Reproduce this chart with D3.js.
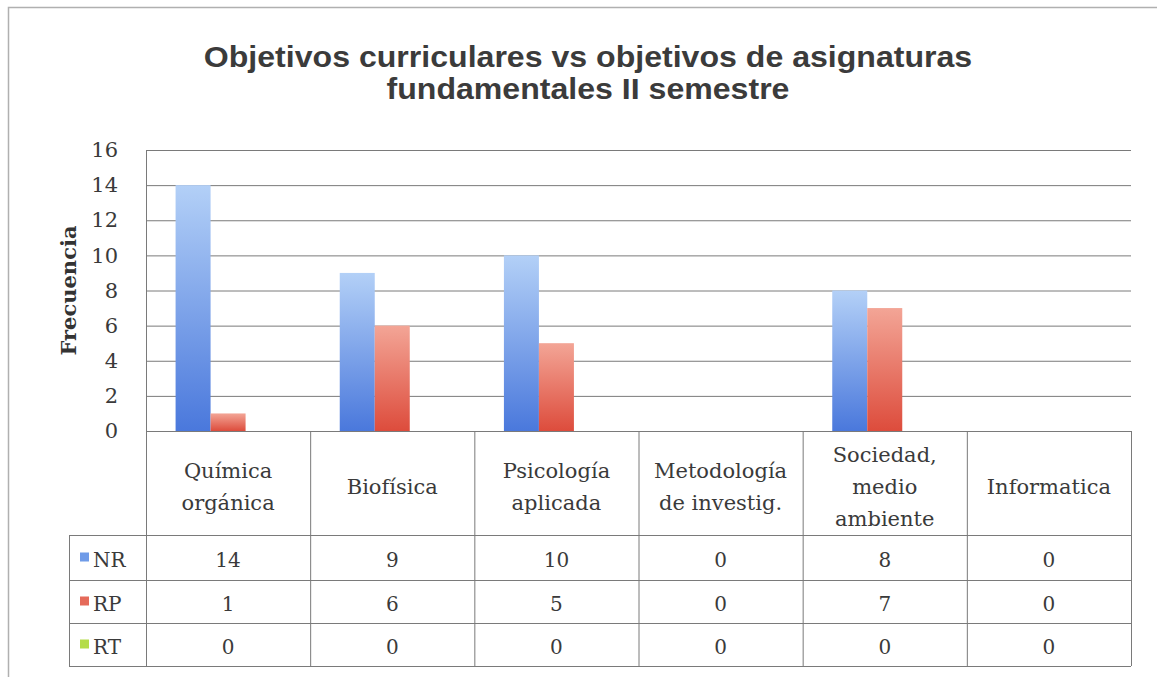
<!DOCTYPE html>
<html>
<head>
<meta charset="utf-8">
<script src="https://cdn.jsdelivr.net/npm/d3@7"></script>
<style>
  body { margin: 0; background: #fff; }
  svg { display: block; }
</style>
</head>
<body>
<script>
var categories = [
    ["Química", "orgánica"],
    ["Biofísica"],
    ["Psicología", "aplicada"],
    ["Metodología", "de investig."],
    ["Sociedad,", "medio", "ambiente"],
    ["Informatica"]
];
var seriesNames = ["NR", "RP", "RT"];
var nrValues = [14, 9, 10, 0, 8, 0];
var rpValues = [1, 6, 5, 0, 7, 0];
var rtValues = [0, 0, 0, 0, 0, 0];
var yTicks = [0, 2, 4, 6, 8, 10, 12, 14, 16];

var W = 1157, H = 677;
var plotLeft = 146, plotRight = 1131, plotTop = 150, plotBottom = 431;
var legendLeft = 69;
var rowEdges = [431, 535, 580, 623, 666];
var serif = "'DejaVu Serif', serif";

var svg = d3.select("body").append("svg")
    .attr("width", W)
    .attr("height", H);

// gradients for the bars
var defs = svg.append("defs");
var grads = [
    {id: "gNR", top: "#b3d0f7", bottom: "#4a78dc"},
    {id: "gRP", top: "#f3a596", bottom: "#dd4c3c"},
    {id: "gRT", top: "#d6f08a", bottom: "#9cc830"}
];
grads.forEach(function(g){
    var lg = defs.append("linearGradient")
        .attr("id", g.id)
        .attr("x1", 0).attr("y1", 0).attr("x2", 0).attr("y2", 1);
    lg.append("stop").attr("offset", "0%").attr("stop-color", g.top);
    lg.append("stop").attr("offset", "100%").attr("stop-color", g.bottom);
});
var solid = ["#6f9be8", "#e56a5a", "#b4dc48"];

// outer frame
svg.append("rect")
    .attr("x", 8.5).attr("y", 7.5)
    .attr("width", W + 20).attr("height", H + 20)
    .attr("fill", "none")
    .attr("stroke", "#b0b0b0")
    .attr("stroke-width", 1.5);

// title (scan is a bit stretched horizontally)
var title = svg.append("text")
    .attr("text-anchor", "middle")
    .attr("transform", "translate(588,0) scale(1.07,1)")
    .style("font-family", "'Liberation Sans', Arial, sans-serif")
    .style("font-weight", "bold")
    .style("font-size", "30px")
    .attr("fill", "#3b3b3b");
title.append("tspan").attr("x", 0).attr("y", 67)
    .text("Objetivos curriculares vs objetivos de asignaturas");
title.append("tspan").attr("x", 0).attr("y", 99)
    .text("fundamentales II semestre");

var x = d3.scaleBand()
    .domain(d3.range(categories.length))
    .range([plotLeft, plotRight]);

var y = d3.scaleLinear()
    .domain([0, 16])
    .range([plotBottom, plotTop]);

// gridlines
svg.append("g")
    .selectAll("line")
    .data(yTicks)
    .join("line")
    .attr("x1", plotLeft).attr("x2", plotRight)
    .attr("y1", function(d){ return y(d) + 0.5; })
    .attr("y2", function(d){ return y(d) + 0.5; })
    .attr("stroke", "#7a7a7a")
    .attr("stroke-width", 1);

// y axis
var yAxis = svg.append("g")
    .attr("transform", "translate(" + plotLeft + ",0)")
    .call(d3.axisLeft(y).tickValues(yTicks).tickSize(0).tickPadding(28));
yAxis.select(".domain").attr("stroke", "#7a7a7a");
yAxis.selectAll("text")
    .style("font-family", serif)
    .style("font-size", "21px")
    .attr("fill", "#3a3a3a");

svg.append("text")
    .attr("transform", "translate(76," + ((plotTop + plotBottom) / 2) + ") rotate(-90)")
    .attr("text-anchor", "middle")
    .style("font-family", serif)
    .style("font-weight", "bold")
    .style("font-size", "21px")
    .attr("fill", "#333")
    .text("Frecuencia");

// bars
var barW = 35;
var series = [nrValues, rpValues, rtValues];
var xs = d3.scaleBand()
    .domain(d3.range(series.length))
    .range([0, barW * series.length]);

series.forEach(function(vals, si){
    svg.append("g")
        .selectAll("rect")
        .data(vals)
        .join("rect")
        .attr("x", function(d, i){
            return x(i) + (x.bandwidth() - barW * series.length) / 2 + xs(si);
        })
        .attr("y", function(d){ return y(d); })
        .attr("width", xs.bandwidth())
        .attr("height", function(d){ return y(0) - y(d); })
        .attr("fill", "url(#" + grads[si].id + ")");
});

// data table
var table = svg.append("g")
    .attr("stroke", "#7a7a7a")
    .attr("stroke-width", 1)
    .attr("fill", "none");

rowEdges.forEach(function(ry, i){
    table.append("line")
        .attr("x1", i === 0 ? plotLeft : legendLeft)
        .attr("x2", plotRight)
        .attr("y1", ry + 0.5).attr("y2", ry + 0.5);
});
var vEdges = x.domain().map(function(i){ return x(i); }).concat([plotRight]);
vEdges.forEach(function(vx){
    table.append("line")
        .attr("x1", vx + 0.5).attr("x2", vx + 0.5)
        .attr("y1", rowEdges[0]).attr("y2", rowEdges[4]);
});
table.append("line")
    .attr("x1", legendLeft + 0.5).attr("x2", legendLeft + 0.5)
    .attr("y1", rowEdges[1]).attr("y2", rowEdges[4]);

// category labels
var catG = svg.append("g")
    .style("font-family", serif)
    .style("font-size", "21px")
    .attr("fill", "#3a3a3a")
    .attr("text-anchor", "middle");
categories.forEach(function(lines, i){
    var cx = x(i) + x.bandwidth() / 2;
    var cy = (rowEdges[0] + rowEdges[1]) / 2;
    var lh = 32;
    var t = catG.append("text");
    lines.forEach(function(l, k){
        t.append("tspan")
            .attr("x", cx)
            .attr("y", cy + (k - (lines.length - 1) / 2) * lh + 11)
            .text(l);
    });
});

// value rows + legend keys
var valG = svg.append("g")
    .style("font-family", serif)
    .style("font-size", "20px")
    .attr("fill", "#3a3a3a")
    .attr("text-anchor", "middle");
series.forEach(function(vals, si){
    var cy = (rowEdges[si + 1] + rowEdges[si + 2]) / 2;
    valG.selectAll(null)
        .data(vals)
        .join("text")
        .attr("x", function(d, i){ return x(i) + x.bandwidth() / 2; })
        .attr("y", cy + 9)
        .text(function(d){ return d; });

    svg.append("rect")
        .attr("x", legendLeft + 11)
        .attr("y", cy - 5)
        .attr("width", 9).attr("height", 9)
        .attr("fill", solid[si]);
    svg.append("text")
        .attr("x", legendLeft + 24)
        .attr("y", cy + 9)
        .style("font-family", serif)
        .style("font-size", "20px")
        .attr("fill", "#3a3a3a")
        .text(seriesNames[si]);
});
</script>
</body>
</html>
